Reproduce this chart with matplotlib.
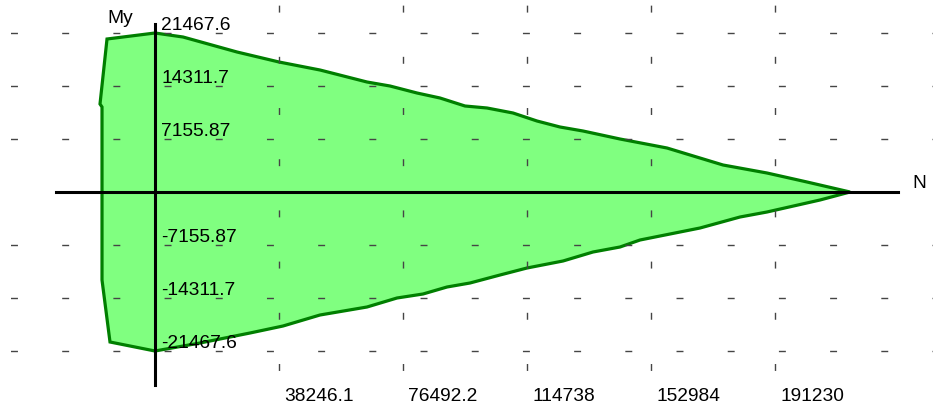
import matplotlib
matplotlib.use("Agg")
import matplotlib.pyplot as plt
from matplotlib.transforms import offset_copy, blended_transform_factory

plt.rcParams['font.family'] = ['Liberation Sans', 'DejaVu Sans']

# -----------------------------
# DATA (N, My) of the interaction curve
# -----------------------------

n_upper = [-16347, -16347, -16964, -14805, 0, 8636, 25292, 38246, 50893,
           65389, 72483, 80811, 87905, 95616, 102402, 110422, 117824,
           124918, 132012, 143425, 157921, 175194, 188765, 201103, 214366]
my_upper = [0, 11477, 11882, 20658, 21468, 20928, 18903, 17553, 16472,
            14852, 14312, 13367, 12692, 11612, 11342, 10667, 9586,
            8776, 8236, 7156, 5941, 3646, 2565, 1350, 0]

n_lower = [-16347, -16347, -13880, 0, 13880, 29302, 39480, 50893, 65389,
           74642, 82662, 90064, 97159, 106412, 114740, 125844, 135097,
           143425, 149593, 168100, 180437, 188765, 205113, 214366]
my_lower = [0, -11882, -20253, -21468, -20388, -19038, -18093, -16607, -15527,
            -14312, -13772, -12827, -12287, -11207, -10262, -9316, -8101,
            -7426, -6481, -4861, -3376, -2700, -1080, 0]

x_ticks = [38246.1, 76492.2, 114738, 152984, 191230]
x_labels = ["38246.1", "76492.2", "114738", "152984", "191230"]
y_ticks = [21467.6, 14311.7, 7155.87, -7155.87, -14311.7, -21467.6]
y_labels = ["21467.6", "14311.7", "7155.87", "-7155.87", "-14311.7", "-21467.6"]

# -----------------------------
# FIGURE
# -----------------------------

fig = plt.figure(figsize=(9.33, 4.04), dpi=100)
ax = fig.add_axes([0, 0, 1, 1])
ax.set_xlim(-47810, 239960)
ax.set_ylim(-28624, 25924)
for s in ax.spines.values():
    s.set_visible(False)

# closed polygon: upper branch then lower branch reversed
poly_n = n_upper + n_lower[::-1]
poly_m = my_upper + my_lower[::-1]
ax.fill(poly_n, poly_m, facecolor='#80ff80', edgecolor='#007f00',
        linewidth=2.3, zorder=1)

# dashed grid
ax.set_xticks(x_ticks)
ax.set_yticks(y_ticks)
ax.tick_params(length=0, labelbottom=False, labelleft=False)
ax.set_axisbelow(False)
ax.grid(axis='y', color='#454545', linewidth=1.0,
        linestyle=(29.3, (5.0, 31.86)))
ax.grid(axis='x', color='#454545', linewidth=1.0,
        linestyle=(12.7, (5.0, 31.86)))

# axes through origin
ax.axhline(0, xmin=56 / 933, xmax=898 / 933, color='black', lw=2.2, zorder=3)
ax.axvline(0, ymin=19 / 404, ymax=380 / 404, color='black', lw=2.2, zorder=3)

# tick labels
fs = 13.8
ylab_tr = offset_copy(ax.transData, fig=fig, x=6, y=3, units='dots')
for v, lab in zip(y_ticks, y_labels):
    ax.text(0, v, lab, transform=ylab_tr, ha='left', va='baseline',
            fontsize=fs, zorder=4)

xlab_tr = offset_copy(blended_transform_factory(ax.transData, ax.transAxes),
                      fig=fig, x=5, y=0, units='dots')
for v, lab in zip(x_ticks, x_labels):
    ax.text(v, 3 / 404, lab, transform=xlab_tr, ha='left', va='baseline',
            fontsize=fs, zorder=4)

# axis names
ax.text(120 / 933, 1 - 23 / 404, "My", transform=ax.transAxes,
        ha='center', va='baseline', fontsize=fs)
ax.text(912 / 933, 1 - 188 / 404, "N", transform=ax.transAxes,
        ha='left', va='baseline', fontsize=fs)

plt.savefig("out.png", dpi=100)
